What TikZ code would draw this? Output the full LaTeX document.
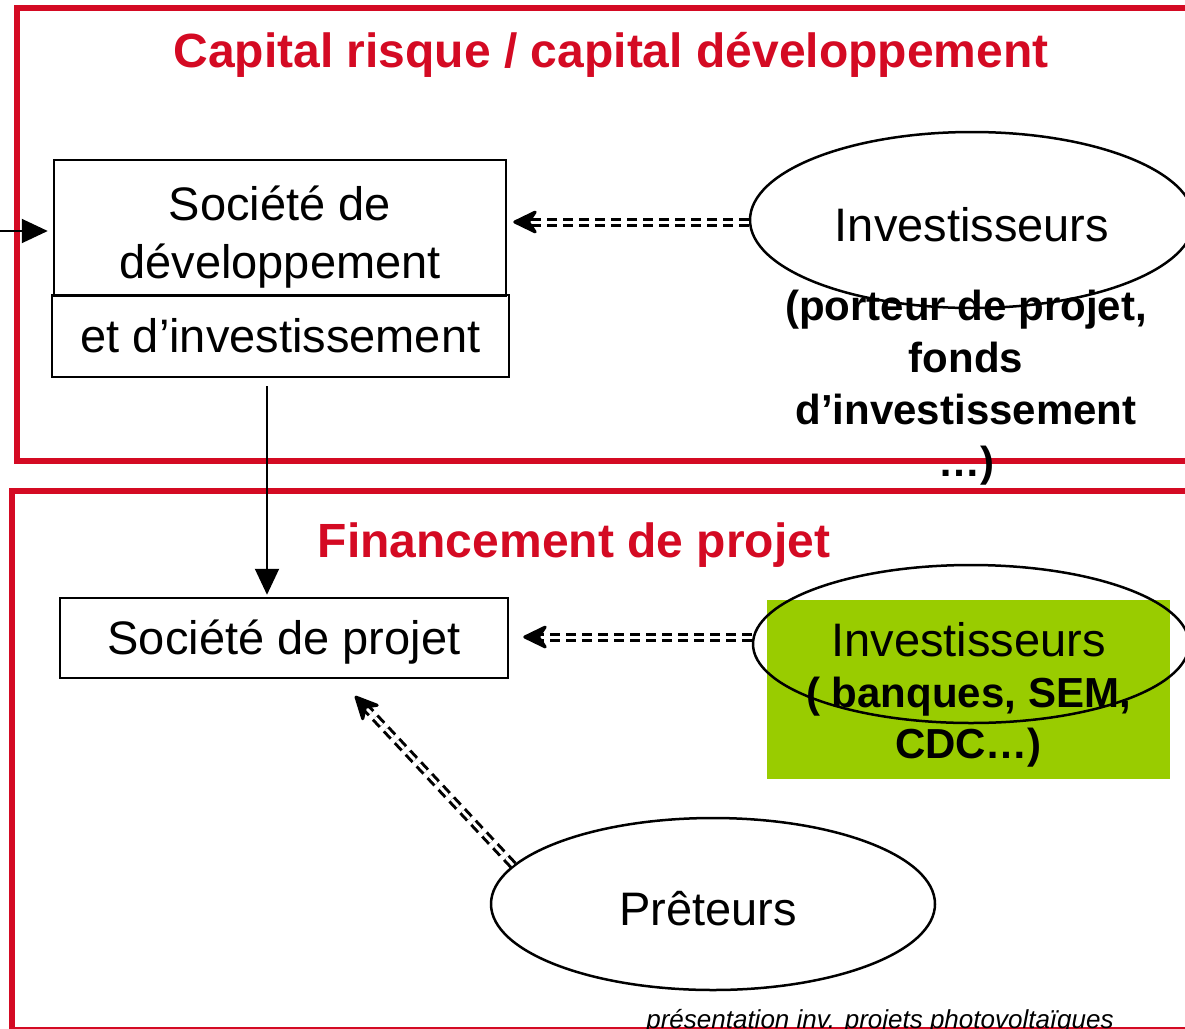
\documentclass[tikz,border=0pt]{standalone}
\usepackage{fontspec}
\setmainfont{Liberation Sans}
\usetikzlibrary{arrows.meta,shapes.geometric}
\definecolor{fred}{RGB}{212,10,35}
\definecolor{fgreen}{RGB}{153,204,0}
\begin{document}
\begin{tikzpicture}[x=1pt,y=-1pt,
  redframe/.style={draw=fred, line width=6pt},
  box/.style={draw, line width=2.5pt, inner sep=0pt, align=center, font=\fontsize{47}{58}\selectfont},
  txt/.style={inner sep=0pt, align=center, font=\fontsize{47}{58}\selectfont},
  oval/.style={draw, ellipse, line width=2.5pt, inner sep=0pt, font=\fontsize{47}{52}\selectfont},
  title/.style={text=fred, font=\fontsize{48}{52}\selectfont\bfseries, anchor=base, inner sep=0pt},
  dblarrow/.style={line width=3pt, double distance=3pt, dash pattern=on 10pt off 6pt, -{Stealth[length=28pt,width=27pt,inset=9pt,round]}},
  solidarrow/.style={line width=2pt, -{Triangle[length=26pt,width=24pt]}},
]
\useasboundingbox (0,0) rectangle (1185,1028);
\clip (0,0) rectangle (1185,1028);
\draw[redframe] (17,8) rectangle (1210,461);
\draw[redframe] (12,491) rectangle (1210,1030);

\node[title] (t1) at (611,67) {Capital risque / capital développement};
\node[title] (t2) at (574,557) {Financement de projet};

\node[box, minimum width=452pt, minimum height=136pt] (sda) at (280,228) {};
\node[txt] (sdatxt) at ([yshift=-9pt]sda.center) {Société de\\développement};
\node[box, minimum width=457pt, minimum height=82pt] (sdb) at (280.5,336) {et d’investissement};
\node[box, minimum width=448pt, minimum height=80pt, text height=43pt, text depth=10pt] (sp) at (284,638) {Société de projet};

\node[oval, minimum width=444pt, minimum height=176pt, text height=43pt, text depth=0pt] (inv1) at (972,220) {Investisseurs};
\node[font=\fontsize{42}{52}\selectfont\bfseries, align=center, anchor=north, inner sep=0pt] (inv1txt) at (966,290) {(porteur de projet,\\fonds\\d’investissement\\…)};

\node[fill=fgreen, minimum width=403pt, minimum height=179pt, inner sep=0pt] (inv2) at (968.5,689.5) {};
\node[txt, font=\fontsize{47}{51}\selectfont] (inv2txt) at ([yshift=-5pt]inv2.center) {Investisseurs\\{\fontsize{42}{51}\selectfont\bfseries ( banques, SEM,}\\{\fontsize{42}{51}\selectfont\bfseries CDC…)}};
\node[oval, minimum width=436pt, minimum height=158pt] (inv2e) at (971,644) {};

\node[oval, minimum width=444pt, minimum height=172pt, text height=42pt, text depth=0pt] (pret) at (713,904) {\hspace*{-10pt}Prêteurs};

\coordinate (lin) at (-2,231);
\coordinate (sptip) at (355,696);

\draw[solidarrow, shorten >=5pt] (lin) -- (lin -| sda.west);
\draw[dblarrow, shorten >=6pt] ([yshift=-2pt]inv1.west) -- ([yshift=-2pt]inv1.west -| sda.east);
\draw[dblarrow, shorten >=14pt] ([yshift=7pt]inv2e.west) -- ([yshift=7pt]inv2e.west -| sp.east);
\draw[dblarrow] (pret.169) -- (sptip);
\draw[solidarrow] ([xshift=-13.5pt,yshift=-8pt]sdb.south) -- ([xshift=-17pt,yshift=2pt]sp.north);

\node[font=\fontsize{26}{30}\selectfont\itshape, anchor=base, inner sep=0pt] (foot) at (880,1028) {présentation inv. projets photovoltaïques};
\end{tikzpicture}
\end{document}
